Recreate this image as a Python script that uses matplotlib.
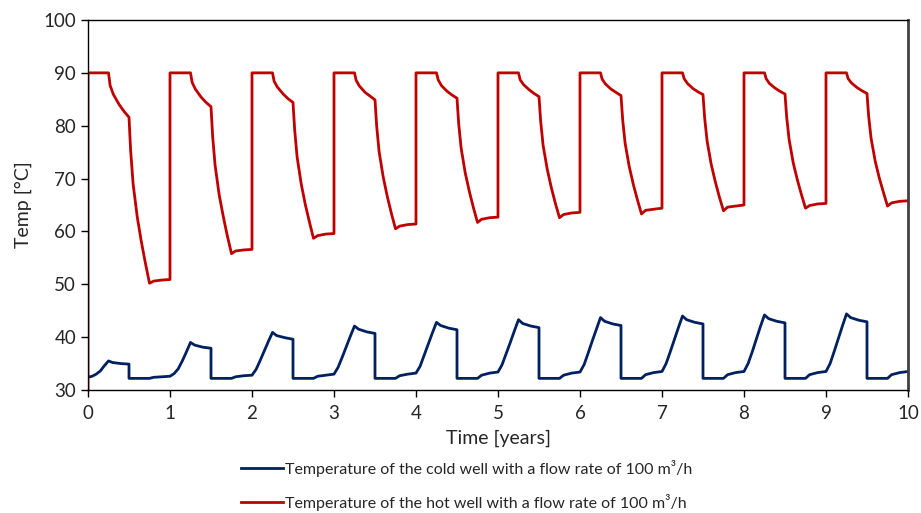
import numpy as np
import matplotlib.pyplot as plt

plt.rcParams['font.family'] = ['Lato', 'DejaVu Sans']

years = list(range(10))

# --- hot well, values read per year ---
# offsets inside a year where points were read
hot_off = [0.0, 0.25, 0.27, 0.31, 0.38, 0.44, 0.50, 0.52, 0.55, 0.60, 0.65, 0.70, 0.75, 0.80, 0.90, 1.0]
hot_vals = [
    [90, 90, 87.6, 85.9, 84.0, 82.7, 81.6, 75.3, 69.0, 62.8, 58.1, 54.0, 50.2, 50.6, 50.8, 50.9],
    [90, 90, 88.2, 86.9, 85.4, 84.4, 83.6, 78.0, 72.5, 66.9, 62.8, 59.1, 55.8, 56.3, 56.5, 56.6],
    [90, 90, 88.4, 87.3, 86.0, 85.1, 84.4, 79.3, 74.1, 69.0, 65.1, 61.8, 58.7, 59.2, 59.5, 59.6],
    [90, 90, 88.6, 87.5, 86.3, 85.6, 84.9, 80.0, 75.1, 70.3, 66.6, 63.4, 60.5, 61.0, 61.3, 61.4],
    [90, 90, 88.7, 87.6, 86.5, 85.8, 85.2, 80.5, 75.8, 71.1, 67.6, 64.5, 61.7, 62.3, 62.6, 62.7],
    [90, 90, 88.7, 87.8, 86.8, 86.1, 85.5, 80.9, 76.3, 71.8, 68.3, 65.3, 62.6, 63.2, 63.5, 63.6],
    [90, 90, 88.8, 87.9, 86.9, 86.3, 85.7, 81.2, 76.7, 72.3, 68.9, 66.0, 63.3, 64.0, 64.2, 64.4],
    [90, 90, 88.9, 88.0, 87.0, 86.4, 85.9, 81.5, 77.1, 72.7, 69.4, 66.5, 63.9, 64.6, 64.8, 65.0],
    [90, 90, 88.9, 88.0, 87.1, 86.5, 86.0, 81.7, 77.4, 73.0, 69.8, 67.0, 64.4, 64.9, 65.2, 65.3],
    [90, 90, 88.9, 88.1, 87.2, 86.6, 86.1, 81.8, 77.6, 73.3, 70.1, 67.4, 64.8, 65.4, 65.7, 65.8],
]

# --- cold well ---
cold_off = [0.0, 0.05, 0.10, 0.15, 0.20, 0.25, 0.30, 0.40, 0.50, 0.50, 0.75, 0.80, 0.90]
cold_vals = [
    [32.4, 32.6, 33.0, 33.6, 34.6, 35.5, 35.2, 35.0, 34.9, 32.2, 32.2, 32.4, 32.5],
    [32.6, 33.1, 34.0, 35.5, 37.2, 39.0, 38.5, 38.1, 37.9, 32.2, 32.2, 32.5, 32.7],
    [32.8, 33.9, 35.6, 37.4, 39.2, 40.9, 40.3, 39.9, 39.6, 32.2, 32.2, 32.6, 32.8],
    [33.0, 34.3, 36.2, 38.2, 40.2, 42.1, 41.5, 41.0, 40.7, 32.2, 32.2, 32.7, 33.0],
    [33.2, 34.5, 36.6, 38.7, 40.8, 42.8, 42.2, 41.7, 41.4, 32.2, 32.2, 32.8, 33.2],
    [33.4, 34.8, 36.9, 39.0, 41.2, 43.3, 42.6, 42.1, 41.8, 32.2, 32.2, 32.8, 33.2],
    [33.4, 34.8, 37.0, 39.3, 41.5, 43.7, 43.0, 42.5, 42.2, 32.2, 32.2, 32.9, 33.3],
    [33.5, 35.0, 37.2, 39.5, 41.8, 44.0, 43.3, 42.8, 42.5, 32.2, 32.2, 32.9, 33.3],
    [33.5, 35.0, 37.2, 39.6, 42.0, 44.2, 43.5, 43.0, 42.7, 32.2, 32.2, 32.9, 33.3],
    [33.5, 35.0, 37.3, 39.7, 42.1, 44.4, 43.7, 43.2, 42.9, 32.2, 32.2, 32.9, 33.3],
]
cold_end = 33.5

t_hot = [0.0]
T_hot = [30.0]
for y, vals in zip(years, hot_vals):
    t_hot += [y + o for o in hot_off]
    T_hot += vals

t_cold = []
T_cold = []
for y, vals in zip(years, cold_vals):
    t_cold += [y + o for o in cold_off]
    T_cold += vals
t_cold.append(10.0)
T_cold.append(cold_end)

fig = plt.figure(figsize=(9.21, 5.13), dpi=100)
ax = fig.add_axes([88/921, 1-390/513, 820/921, 370/513])

ax.plot(t_cold, T_cold, color='#002060', lw=2.0,
        label='Temperature of the cold well with a flow rate of 100 m³/h')
ax.plot(t_hot, T_hot, color='#C00000', lw=2.0,
        label='Temperature of the hot well with a flow rate of 100 m³/h')

ax.set_xlim(0, 10)
ax.set_ylim(30, 100)
ax.set_xticks(range(0, 11))
ax.set_yticks(range(30, 101, 10))
ax.tick_params(labelsize=13.5, colors='#262626', length=5, width=1)
ax.tick_params(axis='both', color='black')
ax.tick_params(axis='x', pad=6)
for s in ax.spines.values():
    s.set_color('black')
    s.set_linewidth(1.0)
ax.spines['right'].set_color('#404040')
ax.spines['right'].set_linewidth(2.0)

ax.set_xlabel('Time [years]', fontsize=14, color='#262626', labelpad=5)
ax.set_ylabel('Temp [°C]', fontsize=14, color='#262626', labelpad=8)

fig.legend(loc='upper left', bbox_to_anchor=(241/921, 1-460/513), frameon=False,
           fontsize=11.5, handlelength=2.6, handletextpad=0.15, labelspacing=1.05,
           borderpad=0, borderaxespad=0, labelcolor='#262626')

fig.savefig('out.png', dpi=100)
